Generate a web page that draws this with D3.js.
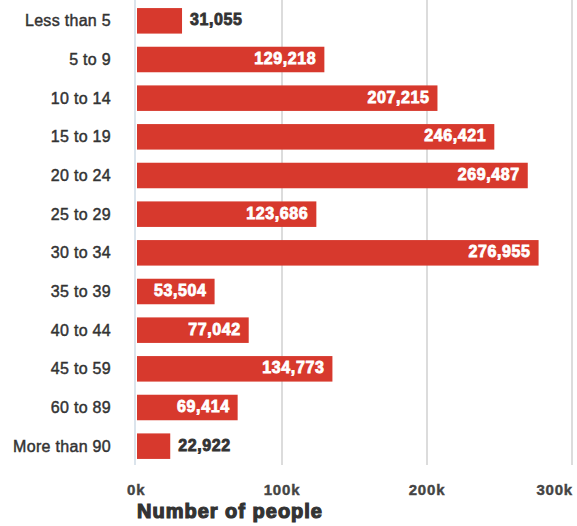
<!DOCTYPE html>
<html><head><meta charset="utf-8">
<script src="https://cdn.jsdelivr.net/npm/d3@7"></script>
<style>body{margin:0;background:#fff;} svg{display:block;}</style>
</head><body>
<svg id="c" width="577" height="526"></svg>
<script>
const categories = ["Less than 5","5 to 9","10 to 14","15 to 19","20 to 24","25 to 29","30 to 34","35 to 39","40 to 44","45 to 59","60 to 89","More than 90"];
const values = [31055,129218,207215,246421,269487,123686,276955,53504,77042,134773,69414,22922];
const tickValues = [0,100000,200000,300000];
const tickLabels = ["0k","100k","200k","300k"];
const axisTitle = "Number of people";

const svg = d3.select("#c");
const x = d3.scaleLinear().domain([0,300000]).range([137,572]);
const y = d3.scaleBand().domain(categories).range([1.5,465.5]).paddingInner(0.34).paddingOuter(0.17);

// grid
svg.append("g").selectAll("line").data(tickValues.slice(1)).join("line")
  .attr("x1", d=>x(d)).attr("x2", d=>x(d)).attr("y1",0).attr("y2",465)
  .attr("stroke","#dcdcdc").attr("stroke-width",2);
// zero axis line
svg.append("line").attr("x1",135).attr("x2",135).attr("y1",0).attr("y2",465)
  .attr("stroke","#cfdbe6").attr("stroke-width",1.5);

// bars
svg.append("g").selectAll("rect").data(values).join("rect")
  .attr("x", x(0)).attr("y",(d,i)=>y(categories[i]))
  .attr("width", d=>x(d)-x(0)).attr("height", y.bandwidth())
  .attr("fill","#d7392d");

// category labels
svg.append("g").selectAll("text").data(categories).join("text")
  .attr("x",111).attr("y",d=>y(d)+y.bandwidth()/2)
  .attr("dy","0.35em").attr("text-anchor","end")
  .attr("font-family","Liberation Sans, Arial, sans-serif").attr("font-size","16px")
  .attr("letter-spacing","0.3px")
  .attr("fill","#333").attr("stroke","#333").attr("stroke-width",0.45)
  .text(d=>d);

// value labels
const fmt = d3.format(",");
const vl = svg.append("g").selectAll("text").data(values).join("text")
  .attr("y",(d,i)=>y(categories[i])+y.bandwidth()/2 - 1)
  .attr("dy","0.35em")
  .attr("font-family","Liberation Sans, Arial, sans-serif").attr("font-weight","bold")
  .attr("font-size","16px").attr("letter-spacing","0.6px").attr("stroke-width",0.8)
  .text(d=>fmt(d));
vl.each(function(d){
  const w = this.getComputedTextLength();
  const bw = x(d)-x(0);
  const t = d3.select(this);
  if (bw > w + 16) {
    t.attr("x", x(d)-8).attr("text-anchor","end").attr("fill","#fff").attr("stroke","#fff");
  } else {
    t.attr("x", x(d)+8).attr("text-anchor","start").attr("fill","#333").attr("stroke","#333");
  }
});

// tick labels
svg.append("g").selectAll("text").data(tickValues).join("text")
  .attr("x",(d,i)=> i===0 ? 127 : (i===tickValues.length-1 ? 573 : x(d)))
  .attr("text-anchor",(d,i)=> i===0 ? "start" : (i===tickValues.length-1 ? "end" : "middle"))
  .attr("y",495)
  .attr("font-family","Liberation Sans, Arial, sans-serif").attr("font-weight","bold")
  .attr("font-size","15px").attr("letter-spacing","0.8px")
  .attr("fill","#444").attr("stroke","#444").attr("stroke-width",0.4)
  .text((d,i)=>tickLabels[i]);

// axis title
svg.append("text").attr("x",230).attr("y",518).attr("text-anchor","middle")
  .attr("font-family","Liberation Sans, Arial, sans-serif").attr("font-weight","bold")
  .attr("font-size","20px").attr("letter-spacing","1px")
  .attr("fill","#333").attr("stroke","#333").attr("stroke-width",1.2)
  .text(axisTitle);
</script>
</body></html>
